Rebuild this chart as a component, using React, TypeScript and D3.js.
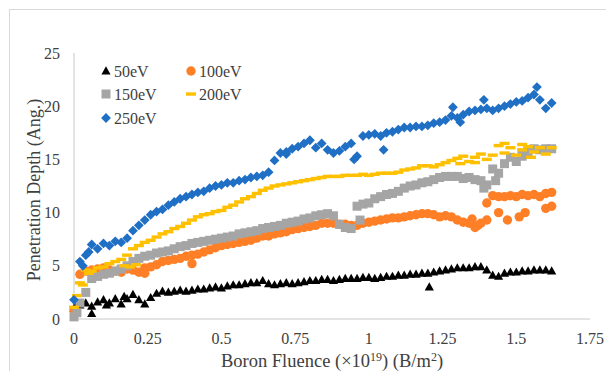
import React from "react";
import * as d3 from "d3";

const fluence = [0.00,0.02,0.04,0.06,0.08,0.10,0.12,0.14,0.16,0.18,0.20,0.22,0.24,0.26,0.28,0.30,0.32,0.34,0.36,0.38,0.40,0.42,0.44,0.46,0.48,0.50,0.52,0.54,0.56,0.58,0.60,0.62,0.64,0.66,0.68,0.70,0.72,0.74,0.76,0.78,0.80,0.82,0.84,0.86,0.88,0.90,0.92,0.94,0.96,0.98,1.00,1.02,1.04,1.06,1.08,1.10,1.12,1.14,1.16,1.18,1.20,1.22,1.24,1.26,1.28,1.30,1.32,1.34,1.36,1.38,1.40,1.42,1.44,1.46,1.48,1.50,1.52,1.54,1.56,1.58,1.60,1.62];

const ev50 = [1.0,1.3,1.5,1.2,1.6,1.8,1.5,1.9,1.4,1.9,2.3,1.8,1.4,2.0,2.4,2.6,2.5,2.6,2.7,2.6,2.7,2.8,2.8,2.9,3.0,2.9,3.1,3.2,3.2,3.3,3.4,3.4,3.6,3.3,3.2,3.3,3.4,3.3,3.4,3.5,3.6,3.6,3.7,3.7,3.6,3.7,3.8,3.8,3.8,3.9,3.9,3.8,3.9,4.0,4.0,4.1,4.1,4.2,4.2,4.3,4.3,4.4,4.5,4.6,4.7,4.8,4.8,4.8,4.9,4.9,4.6,4.1,4.0,4.3,4.4,4.4,4.5,4.5,4.6,4.6,4.6,4.5];
const ev50Extra = [[0.06,0.5],[1.205,3.0],[0.01,1.3],[0.11,1.3],[0.17,2.1]];

const ev100 = [0.8,4.2,4.5,4.6,4.7,4.8,4.6,4.5,4.4,4.7,4.6,4.4,4.8,4.9,5.1,5.4,5.5,5.6,5.7,5.9,6.0,6.1,6.3,6.5,6.7,6.9,7.0,7.1,7.2,7.3,7.4,7.6,7.8,7.8,8.0,8.1,8.2,8.4,8.5,8.6,8.7,8.8,9.0,9.0,9.0,8.9,8.9,8.8,8.8,9.0,9.1,9.2,9.3,9.4,9.5,9.5,9.6,9.7,9.8,9.9,9.9,9.8,9.6,9.7,9.6,9.3,9.1,9.0,8.6,9.0,10.9,11.6,11.5,11.5,11.6,11.5,11.7,11.6,11.7,11.5,11.8,11.9];
const ev100Extra = [[0.40,5.2],[0.24,4.3],[1.35,9.4],[1.37,8.8],[1.40,9.3],[1.44,10.0],[1.47,9.3],[1.51,9.6],[1.53,10.0],[1.60,10.4],[1.62,10.6]];

const ev150 = [0.2,1.5,2.5,3.8,4.0,4.2,4.3,4.5,4.7,5.0,5.4,5.7,5.9,6.0,6.2,6.3,6.4,6.6,6.8,6.9,7.1,7.2,7.3,7.4,7.5,7.6,7.7,7.8,8.0,8.1,8.2,8.3,8.5,8.6,8.7,8.8,9.0,9.1,9.2,9.4,9.5,9.7,9.8,9.9,9.7,8.9,8.6,8.5,10.6,10.8,10.9,11.3,11.5,11.7,11.8,12.0,12.3,12.5,12.6,12.8,12.9,13.1,13.3,13.4,13.4,13.4,13.2,13.3,13.1,13.0,12.6,14.1,13.7,14.6,15.2,14.8,15.3,15.7,16.0,15.9,16.0,16.0];
const ev150Extra = [[0.01,0.6],[0.97,9.3],[1.39,12.3],[1.43,13.0],[1.52,15.6]];

const ev200 = [1.1,3.4,4.6,4.5,4.8,4.9,5.2,5.4,5.6,6.0,6.6,6.9,7.2,7.4,7.7,8.0,8.2,8.5,8.7,9.0,9.3,9.6,9.8,9.9,10.1,10.2,10.5,10.7,11.0,11.3,11.5,11.8,12.1,12.3,12.5,12.6,12.7,12.8,12.9,13.0,13.1,13.2,13.3,13.4,13.4,13.4,13.5,13.5,13.5,13.6,13.5,13.6,13.7,13.7,13.7,13.8,14.0,14.1,14.2,14.4,14.4,14.3,14.5,14.7,14.9,15.1,15.3,14.8,15.2,15.5,15.0,15.4,16.3,15.6,16.1,15.4,15.9,16.2,15.7,16.1,15.5,16.1];
const ev200Extra = [[0.01,2.2],[0.03,3.2],[0.05,4.3],[0.17,5.0],[0.19,4.9],[0.21,5.1],[1.31,14.6],[1.36,14.7],[1.46,16.5],[1.52,16.4],[1.55,15.2]];

const ev250 = [1.8,5.4,6.0,7.0,6.6,7.1,6.9,7.3,7.2,7.6,8.3,8.8,9.3,9.8,10.1,10.3,10.7,11.0,11.3,11.5,11.7,11.9,12.0,12.3,12.5,12.6,12.8,12.8,13.0,13.1,13.3,13.4,13.5,13.8,14.9,15.6,15.7,16.0,16.2,16.5,16.8,16.1,16.5,15.9,15.6,15.8,16.2,16.5,15.3,17.2,17.3,17.4,17.2,17.5,17.6,17.8,18.0,18.0,18.1,18.1,18.2,18.4,18.5,18.7,19.1,18.9,19.2,19.5,19.6,19.7,19.8,19.6,19.8,20.0,20.2,20.4,20.5,20.8,21.1,20.6,19.8,20.3];
const ev250Extra = [[0.03,5.0],[0.05,6.3],[0.72,15.5],[0.95,15.0],[1.05,15.9],[1.285,19.9],[1.31,18.5],[1.39,20.6],[1.57,21.8]];

const seriesNames = ["50eV", "100eV", "150eV", "200eV", "250eV"];
const seriesColors = ["#000000", "#FF7F27", "#A5A5A5", "#FFC000", "#1F6FC5"];
const xTicks = [0, 0.25, 0.5, 0.75, 1, 1.25, 1.5, 1.75];
const xTickLabels = ["0", "0.25", "0.5", "0.75", "1", "1.25", "1.5", "1.75"];
const yTicks = [0, 5, 10, 15, 20, 25];

const FONT = "'Liberation Serif', 'Times New Roman', serif";

function Marker({ kind, x, y, color }: { kind: number; x: number; y: number; color: string }) {
  if (kind === 0) {
    return <path d={`M${x},${y - 4.8}L${x + 4.6},${y + 3.4}L${x - 4.6},${y + 3.4}Z`} fill={color} />;
  }
  if (kind === 1) return <circle cx={x} cy={y} r={4.7} fill={color} />;
  if (kind === 2) return <rect x={x - 4.5} y={y - 4.5} width={9} height={9} fill={color} />;
  if (kind === 3) return <rect x={x - 5} y={y - 1.7} width={10} height={3.4} fill={color} />;
  return <path d={`M${x},${y - 4.9}L${x + 4.9},${y}L${x},${y + 4.9}L${x - 4.9},${y}Z`} fill={color} />;
}

export default function App() {
  const x = d3.scaleLinear().domain([0, 1.75]).range([74, 590]);
  const y = d3.scaleLinear().domain([0, 25]).range([319, 53]);

  const mains = [ev50, ev100, ev150, ev200, ev250];
  const extras = [ev50Extra, ev100Extra, ev150Extra, ev200Extra, ev250Extra];

  const legendPos = [
    [106, 71], [191, 71], [106, 94], [191, 94], [106, 118],
  ];

  return (
    <svg width={606} height={371} style={{ position: "absolute", left: 0, top: 0, background: "#fff" }}>
      <rect x={9.5} y={9.5} width={640} height={400} fill="#fff" stroke="#d9d9d9" strokeWidth={1} />
      <line x1={x(0)} x2={x(1.75)} y1={y(0)} y2={y(0)} stroke="#c8c8c8" strokeWidth={1} />
      <line x1={x(0)} x2={x(0)} y1={y(0)} y2={y(25)} stroke="#c8c8c8" strokeWidth={1} />
      {yTicks.map((t) => (
        <text key={t} x={60} y={y(t) + 5.5} textAnchor="end" fontFamily={FONT} fontSize={16} fill="#404040">
          {t}
        </text>
      ))}
      {xTicks.map((t, i) => (
        <text key={t} x={x(t)} y={344} textAnchor="middle" fontFamily={FONT} fontSize={16} fill="#404040">
          {xTickLabels[i]}
        </text>
      ))}
      <text transform="translate(39.5,190) rotate(-90)" textAnchor="middle" fontFamily={FONT} fontSize={18} fill="#404040">
        Penetration Depth (Ang.)
      </text>
      <text x={332} y={367} textAnchor="middle" fontFamily={FONT} fontSize={18.5} fill="#404040">
        Boron Fluence (×10<tspan dy={-6} fontSize={12}>19</tspan><tspan dy={6}>) (B/m</tspan><tspan dy={-6} fontSize={12}>2</tspan><tspan dy={6}>)</tspan>
      </text>
      {mains.map((vals, k) => (
        <g key={k}>
          {vals.map((v, i) => (
            <Marker key={i} kind={k} x={x(fluence[i])} y={y(v)} color={seriesColors[k]} />
          ))}
          {extras[k].map((p, i) => (
            <Marker key={"e" + i} kind={k} x={x(p[0])} y={y(p[1])} color={seriesColors[k]} />
          ))}
        </g>
      ))}
      {seriesNames.map((n, k) => (
        <g key={n}>
          <Marker kind={k} x={legendPos[k][0]} y={legendPos[k][1]} color={seriesColors[k]} />
          <text x={legendPos[k][0] + 8} y={legendPos[k][1] + 5.5} fontFamily={FONT} fontSize={16} fill="#404040">
            {n}
          </text>
        </g>
      ))}
    </svg>
  );
}
